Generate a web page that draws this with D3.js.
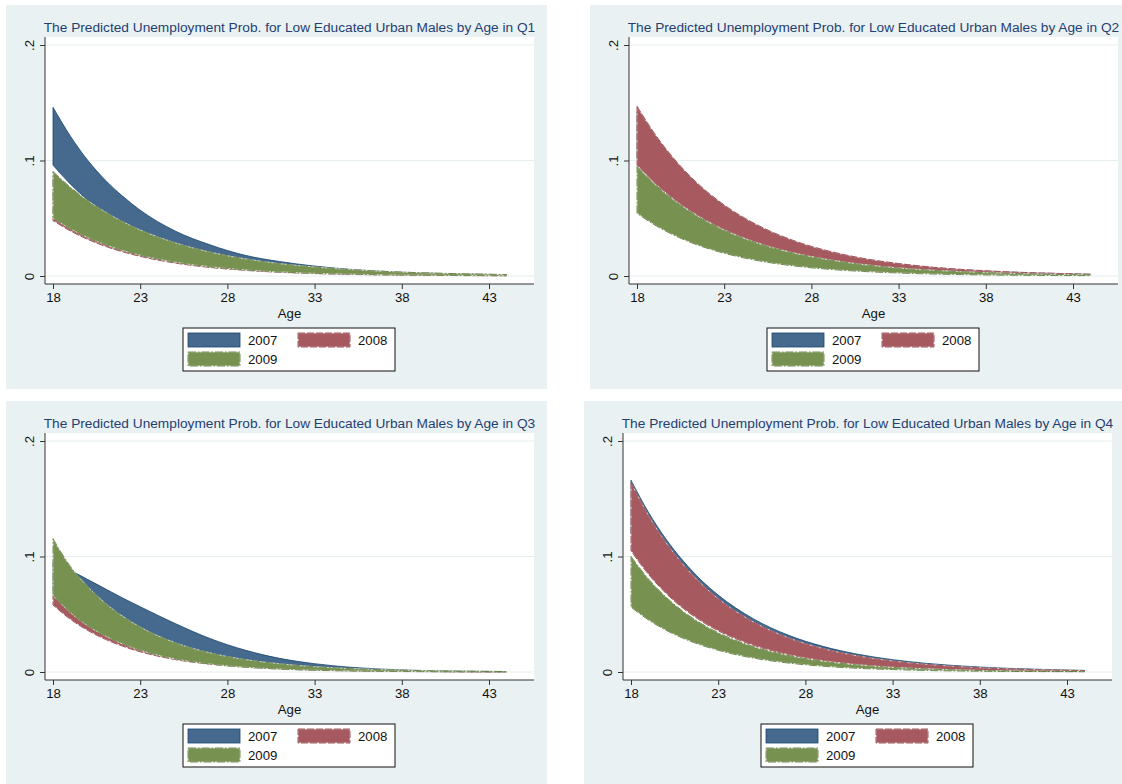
<!DOCTYPE html>
<html>
<head>
    <meta charset="utf-8">
    <title>Predicted Unemployment Prob.</title>
    <script src="https://d3js.org/d3.v7.min.js"></script>
    <style>
        html, body { margin: 0; padding: 0; background: #fff; }
        svg { display: block; font-family: "Liberation Sans", Arial, sans-serif; }
    </style>
</head>
<body>
<div id="chart"></div>
<script>
    const ages = [18, 19, 20, 21, 22, 23, 25, 27, 29, 31, 33, 35, 38, 41, 44];
    const years = ["2007", "2008", "2009"];
    const quarters = ["Q1", "Q2", "Q3", "Q4"];
    const xTicks = [18, 23, 28, 33, 38, 43];
    const yTicks = [0, 0.1, 0.2];
    const yTickLabels = ["0", ".1", ".2"];

    // Q1
    const q1_2007_hi = [.146, .121, .100, .083, .069, .057, .039, .027, .018, .0125, .0086, .0058, .0033, .0019, .0011];
    const q1_2007_lo = [.096, .0795, .0658, .0545, .0451, .0373, .0256, .0176, .0120, .0083, .0057, .0039, .0022, .0012, .0007];
    const q1_2008_hi = [.087, .0736, .0623, .0527, .0446, .0377, .0270, .0193, .0138, .0099, .0071, .0051, .0030, .0018, .0011];
    const q1_2008_lo = [.048, .0390, .0317, .0257, .0209, .0170, .0112, .0074, .0049, .0032, .0021, .0014, .0007, .0004, .0002];
    const q1_2009_hi = [.0905, .0768, .0652, .0554, .0470, .0399, .0288, .0207, .0149, .0107, .0078, .0056, .0034, .0021, .0013];
    const q1_2009_lo = [.050, .0408, .0332, .0271, .0221, .0180, .0120, .0080, .0053, .0035, .0023, .0016, .0008, .0005, .0002];
    // Q2
    const q2_2007_hi = [.142, .1193, .1002, .0842, .0707, .0594, .0419, .0296, .0209, .0147, .0104, .0073, .0043, .0026, .0015];
    const q2_2007_lo = [.101, .0848, .0713, .0599, .0503, .0422, .0298, .0210, .0148, .0105, .0074, .0052, .0031, .0018, .0011];
    const q2_2008_hi = [.147, .1235, .1037, .0871, .0732, .0615, .0434, .0306, .0216, .0152, .0108, .0076, .0045, .0027, .0016];
    const q2_2008_lo = [.096, .0806, .0677, .0569, .0478, .0401, .0283, .0200, .0141, .0100, .0070, .0050, .0029, .0017, .0010];
    const q2_2009_hi = [.095, .0798, .0670, .0563, .0473, .0397, .0280, .0198, .0140, .0098, .0069, .0049, .0029, .0017, .0010];
    const q2_2009_lo = [.0543, .0443, .0362, .0295, .0241, .0197, .0131, .0087, .0058, .0039, .0026, .0017, .0009, .0005, .0003];
    // Q3
    const q3_2007_hi = [.095, .088, .080, .072, .064, .0565, .042, .029, .019, .0118, .0072, .0042, .0018, .0008, .0004];
    const q3_2007_lo = [.070, .0553, .0437, .0345, .0273, .0215, .0134, .0084, .0052, .0033, .0020, .0013, .0006, .0003, .0001];
    const q3_2008_hi = [.068, .0537, .0424, .0335, .0265, .0209, .0131, .0081, .0051, .0032, .0020, .0012, .0006, .0003, .0002];
    const q3_2008_lo = [.058, .0456, .0359, .0283, .0223, .0175, .0108, .0067, .0042, .0026, .0016, .0010, .0005, .0002, .0001];
    const q3_2009_hi = [.1154, .0913, .0738, .0596, .0482, .0389, .0254, .0166, .0108, .0071, .0046, .0030, .0016, .0008, .0004];
    const q3_2009_lo = [.066, .0513, .0399, .0311, .0242, .0188, .0114, .0069, .0042, .0025, .0015, .0009, .0004, .0002, .0001];
    // Q4
    const q4_2007_hi = [.166, .1383, .1152, .0960, .0799, .0666, .0462, .0320, .0222, .0154, .0107, .0074, .0043, .0025, .0014];
    const q4_2007_lo = [.120, .0972, .0787, .0638, .0517, .0418, .0274, .0180, .0118, .0077, .0051, .0033, .0018, .0009, .0005];
    const q4_2008_hi = [.164, .1356, .1122, .0928, .0768, .0635, .0435, .0297, .0203, .0139, .0095, .0065, .0037, .0021, .0012];
    const q4_2008_lo = [.105, .0846, .0682, .0550, .0443, .0357, .0232, .0151, .0098, .0064, .0041, .0027, .0014, .0007, .0004];
    const q4_2009_hi = [.100, .0806, .0650, .0524, .0422, .0340, .0221, .0144, .0093, .0061, .0039, .0026, .0013, .0007, .0004];
    const q4_2009_lo = [.0562, .0451, .0362, .0291, .0234, .0188, .0121, .0078, .0050, .0032, .0021, .0013, .0007, .0004, .0002];

    const bands = {
        Q1: [[q1_2007_lo, q1_2007_hi], [q1_2008_lo, q1_2008_hi], [q1_2009_lo, q1_2009_hi]],
        Q2: [[q2_2007_lo, q2_2007_hi], [q2_2008_lo, q2_2008_hi], [q2_2009_lo, q2_2009_hi]],
        Q3: [[q3_2007_lo, q3_2007_hi], [q3_2008_lo, q3_2008_hi], [q3_2009_lo, q3_2009_hi]],
        Q4: [[q4_2007_lo, q4_2007_hi], [q4_2008_lo, q4_2008_hi], [q4_2009_lo, q4_2009_hi]]
    };

    // stata-like styles per year
    const fills = ["#46698e", "#a6595f", "#779150"];
    const strokes = ["#1a476f", "#90353b", "#55752f"];
    const dashes = [null, "7,2", "8,2,1.5,2"];

    const panelPos = [[0, 0], [584, 0], [0, 396], [578, 396]];

    const svg = d3.select("#chart").append("svg")
        .attr("width", 1122)
        .attr("height", 784);

    // x/y scales shared by all panels (panel-local coords)
    const x = d3.scaleLinear().domain([18, 43]).range([53, 489]);
    const y = d3.scaleLinear().domain([0, 0.2]).range([276, 45]);
    const plot = { left: 45, right: 534, top: 37, bottom: 284 };

    const area = d3.area()
        .x(d => x(d.age))
        .y0(d => y(d.lo))
        .y1(d => y(d.hi))
        .curve(d3.curveMonotoneX);

    const labelSize = "13.2px";

    quarters.forEach((q, qi) => {
        const g = svg.append("g")
            .attr("transform", `translate(${panelPos[qi][0]},${panelPos[qi][1]})`);

        g.append("rect")
            .attr("x", 6).attr("y", 5)
            .attr("width", 541).attr("height", 384)
            .attr("fill", "#eaf1f3");

        g.append("rect")
            .attr("x", plot.left).attr("y", plot.top)
            .attr("width", plot.right - plot.left)
            .attr("height", plot.bottom - plot.top)
            .attr("fill", "#fff");

        // grid lines
        g.selectAll(".grid")
            .data(yTicks)
            .enter().append("line")
            .attr("x1", plot.left).attr("x2", plot.right)
            .attr("y1", d => y(d)).attr("y2", d => y(d))
            .attr("stroke", "#e6eef0")
            .attr("stroke-width", 1.2);

        // bands
        bands[q].forEach((b, i) => {
            const rows = ages.map((a, k) => ({ age: a, lo: b[0][k], hi: b[1][k] }));
            g.append("path")
                .datum(rows)
                .attr("d", area)
                .attr("fill", fills[i]);
            if (dashes[i]) {
                g.append("path")
                    .datum(rows)
                    .attr("d", area)
                    .attr("fill", "none")
                    .attr("stroke", "#eeeeee")
                    .attr("stroke-width", 0.8);
            }
            g.append("path")
                .datum(rows)
                .attr("d", area)
                .attr("fill", "none")
                .attr("stroke", strokes[i])
                .attr("stroke-width", 0.8)
                .attr("stroke-dasharray", dashes[i]);
        });

        // y axis
        const yAxis = g.append("g")
            .attr("transform", `translate(${plot.left},0)`)
            .call(d3.axisLeft(y).tickValues(yTicks)
                .tickFormat((d, i) => yTickLabels[i])
                .tickSize(5).tickSizeOuter(0));
        yAxis.select(".domain").attr("d", `M0,${plot.top}V${plot.bottom}`).attr("stroke", "#333");
        yAxis.selectAll(".tick line").attr("stroke", "#333");
        yAxis.selectAll(".tick text")
            .attr("x", null).attr("dy", null)
            .attr("transform", "translate(-11,0) rotate(-90)")
            .attr("text-anchor", "middle")
            .style("font-size", labelSize)
            .style("font-family", "'Liberation Sans', Arial, sans-serif")
            .attr("fill", "#111");

        // x axis
        const xAxis = g.append("g")
            .attr("transform", `translate(0,${plot.bottom})`)
            .call(d3.axisBottom(x).tickValues(xTicks)
                .tickSize(5).tickSizeOuter(0).tickPadding(4));
        xAxis.select(".domain").attr("d", `M${plot.left},0H${plot.right}`).attr("stroke", "#333");
        xAxis.selectAll(".tick line").attr("stroke", "#333");
        xAxis.selectAll(".tick text")
            .style("font-size", labelSize)
            .style("font-family", "'Liberation Sans', Arial, sans-serif")
            .attr("fill", "#111");

        const cx = (plot.left + plot.right) / 2;

        g.append("text")
            .attr("x", cx).attr("y", 318)
            .attr("text-anchor", "middle")
            .style("font-size", labelSize)
            .attr("fill", "#111")
            .text("Age");

        g.append("text")
            .attr("x", cx).attr("y", 32)
            .attr("text-anchor", "middle")
            .style("font-size", "13.7px")
            .attr("fill", "#243f72")
            .text("The Predicted Unemployment Prob. for Low Educated Urban Males by Age in " + q);

        // legend
        const lg = g.append("g").attr("transform", "translate(183,328)");
        lg.append("rect")
            .attr("width", 212).attr("height", 43)
            .attr("fill", "#fff")
            .attr("stroke", "#111")
            .attr("stroke-width", 1);
        const keyPos = [[5, 5], [115, 5], [5, 24]];
        years.forEach((yr, i) => {
            const k = lg.append("g").attr("transform", `translate(${keyPos[i][0]},${keyPos[i][1]})`);
            k.append("rect")
                .attr("width", 52).attr("height", 14)
                .attr("fill", fills[i]);
            if (dashes[i]) {
                k.append("rect")
                    .attr("width", 52).attr("height", 14)
                    .attr("fill", "none")
                    .attr("stroke", "#eeeeee").attr("stroke-width", 0.8);
            }
            k.append("rect")
                .attr("width", 52).attr("height", 14)
                .attr("fill", "none")
                .attr("stroke", strokes[i]).attr("stroke-width", 0.8)
                .attr("stroke-dasharray", dashes[i]);
            k.append("text")
                .attr("x", 60).attr("y", 12)
                .style("font-size", labelSize)
                .attr("fill", "#111")
                .text(yr);
        });
    });
</script>
</body>
</html>
